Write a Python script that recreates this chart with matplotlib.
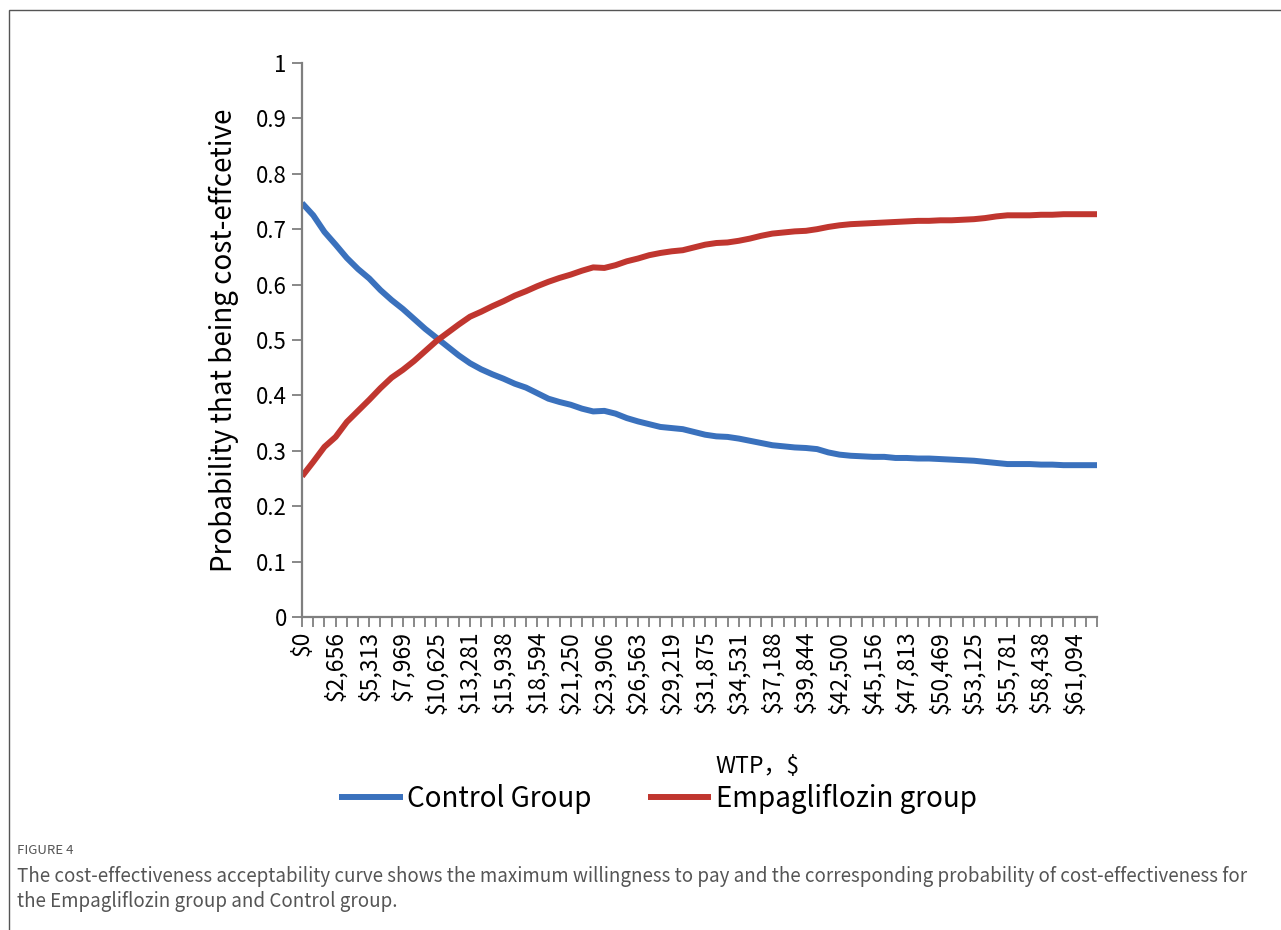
import numpy as np
import matplotlib
matplotlib.use("Agg")
import matplotlib.pyplot as plt
from matplotlib.patches import Rectangle

plt.rcParams['font.family'] = ['Noto Sans CJK SC', 'DejaVu Sans']

# probability of being cost-effective, one value per WTP step (72 steps of $885.42)
control = [
    0.747, 0.725, 0.695, 0.672, 0.648, 0.628, 0.611, 0.590, 0.572, 0.556,
    0.538, 0.520, 0.504, 0.488, 0.472, 0.458, 0.447, 0.438, 0.430, 0.421,
    0.414, 0.404, 0.394, 0.388, 0.383, 0.376, 0.371, 0.372, 0.367, 0.359,
    0.353, 0.348, 0.343, 0.341, 0.339, 0.334, 0.329, 0.326, 0.325, 0.322,
    0.318, 0.314, 0.310, 0.308, 0.306, 0.305, 0.303, 0.297, 0.293, 0.291,
    0.290, 0.289, 0.289, 0.287, 0.287, 0.286, 0.286, 0.285, 0.284, 0.283,
    0.282, 0.280, 0.278, 0.276, 0.276, 0.276, 0.275, 0.275, 0.274, 0.274,
    0.274, 0.274,
]
empagliflozin = [
    0.254, 0.280, 0.307, 0.325, 0.352, 0.372, 0.392, 0.413, 0.432, 0.446,
    0.462, 0.480, 0.498, 0.513, 0.528, 0.542, 0.551, 0.561, 0.570, 0.580,
    0.588, 0.597, 0.605, 0.612, 0.618, 0.625, 0.631, 0.630, 0.635, 0.642,
    0.647, 0.653, 0.657, 0.660, 0.662, 0.667, 0.672, 0.675, 0.676, 0.679,
    0.683, 0.688, 0.692, 0.694, 0.696, 0.697, 0.700, 0.704, 0.707, 0.709,
    0.710, 0.711, 0.712, 0.713, 0.714, 0.715, 0.715, 0.716, 0.716, 0.717,
    0.718, 0.720, 0.723, 0.725, 0.725, 0.725, 0.726, 0.726, 0.727, 0.727,
    0.727, 0.727,
]
wtp_labels = [
    "$0", "$2,656", "$5,313", "$7,969", "$10,625", "$13,281", "$15,938",
    "$18,594", "$21,250", "$23,906", "$26,563", "$29,219", "$31,875",
    "$34,531", "$37,188", "$39,844", "$42,500", "$45,156", "$47,813",
    "$50,469", "$53,125", "$55,781", "$58,438", "$61,094",
]
y_ticks = [0, 0.1, 0.2, 0.3, 0.4, 0.5, 0.6, 0.7, 0.8, 0.9, 1]
y_labels = ["0", "0.1", "0.2", "0.3", "0.4", "0.5", "0.6", "0.7", "0.8", "0.9", "1"]

blue = '#3a71bd'
red = '#c0362f'
axis_grey = '#7f7f7f'

fig = plt.figure(figsize=(12.81, 9.30), dpi=100)
ax = fig.add_axes([0.2358, 0.3366, 0.8564 - 0.2358, 0.9323 - 0.3366])

x = np.arange(len(control))
ax.plot(x, control, color=blue, lw=4.3, label="Control Group", solid_capstyle='butt')
ax.plot(x, empagliflozin, color=red, lw=4.3, label="Empagliflozin group", solid_capstyle='butt')

ax.set_xlim(0, len(control) - 1)
ax.set_ylim(0, 1)
ax.set_xticks(np.arange(0, len(control), 3))
ax.set_xticklabels(wtp_labels, rotation=90, fontsize=16.5)
ax.set_xticks(np.arange(len(control)), minor=True)
ax.set_yticks(y_ticks)
ax.set_yticklabels(y_labels, fontsize=16)

for side in ['top', 'right']:
    ax.spines[side].set_visible(False)
for side in ['left', 'bottom']:
    ax.spines[side].set_color(axis_grey)
    ax.spines[side].set_linewidth(1.6)
ax.tick_params(axis='y', direction='out', length=7, width=1.3, color=axis_grey, pad=4)
ax.tick_params(axis='x', which='both', direction='out', length=7, width=1.3, color=axis_grey, pad=3)

ax.set_ylabel("Probability that being cost-effcetive", fontsize=20, labelpad=12)
fig.text(757 / 1281, 1 - 766 / 930, "WTP，$", fontsize=16.5, ha='center', va='center')

fig.legend(loc='center', bbox_to_anchor=(658 / 1281, 1 - 799 / 930), ncol=2,
           frameon=False, fontsize=20, handlelength=2.3, columnspacing=2.0,
           handletextpad=0.15)

# figure caption below the chart
fig.text(17 / 1281, 1 - 850 / 930, "FIGURE 4", fontsize=9.5, color='#555555', va='center')
fig.text(17 / 1281, 1 - 876 / 930,
         "The cost-effectiveness acceptability curve shows the maximum willingness to pay and the "
         "corresponding probability of cost-effectiveness for",
         fontsize=13.5, color='#555555', va='center')
fig.text(17 / 1281, 1 - 901 / 930, "the Empagliflozin group and Control group.",
         fontsize=13.5, color='#555555', va='center')

# frame around the figure panel
fig.patches.append(Rectangle((9 / 1281, -0.1), 1.2, 1 - 10 / 930 + 0.1,
                             transform=fig.transFigure, fill=False,
                             edgecolor='#555555', lw=1.0))

fig.savefig("out.png", dpi=100)
